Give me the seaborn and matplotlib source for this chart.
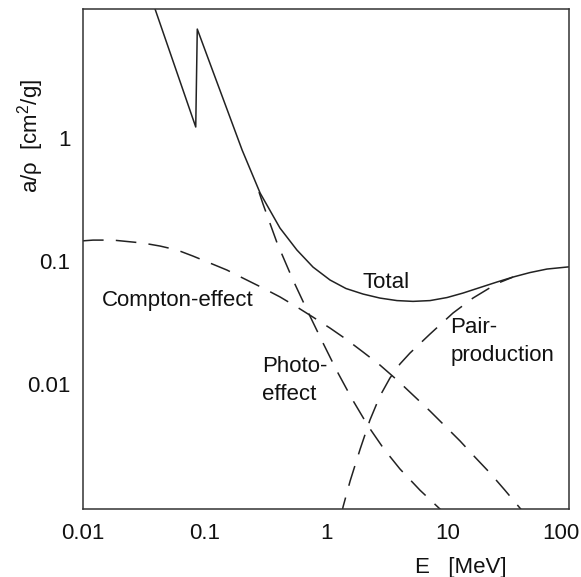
import numpy as np
import pandas as pd
import matplotlib
matplotlib.use("Agg")
import matplotlib.pyplot as plt
import matplotlib.transforms as mtransforms
import seaborn as sns
from matplotlib.ticker import FixedLocator, FixedFormatter, NullLocator

# ---- data (E in MeV, a/rho in cm^2/g) ----
total_E = [0.0377, 0.0847, 0.0872, 0.1154, 0.152, 0.204, 0.287, 0.418, 0.576, 0.782,
           1.08, 1.46, 2.02, 2.78, 3.84, 5.20, 7.18, 9.91, 13.4, 18.5, 25.5, 34.6,
           47.7, 65.9, 96.4, 100.0]
total_mu = [12.5, 1.23, 7.69, 3.64, 1.75, 0.799, 0.357, 0.1855, 0.123, 0.0893,
            0.0701, 0.0598, 0.0539, 0.0500, 0.0477, 0.0470, 0.0477, 0.0505, 0.0549,
            0.0609, 0.0675, 0.0741, 0.0806, 0.0861, 0.0894, 0.0897]

photo_E = [0.281, 0.303, 0.396, 0.535, 0.698, 0.927, 1.23, 1.64, 2.22, 3.00, 4.06,
           5.94, 8.67, 10.5]
photo_mu = [0.364, 0.291, 0.140, 0.0701, 0.0400, 0.0224, 0.01276, 0.00755, 0.00456,
            0.00296, 0.00204, 0.00137, 0.000964, 0.000814]

compton_E = [0.0100, 0.0121, 0.0177, 0.0312, 0.0431, 0.0594, 0.0803, 0.111, 0.153,
             0.207, 0.303, 0.418, 0.576, 0.782, 1.08, 1.46, 2.02, 2.78, 3.84, 5.20,
             7.18, 9.54, 12.7, 16.8, 22.4, 29.7, 39.5, 45.1]
compton_mu = [0.146, 0.148, 0.148, 0.140, 0.1324, 0.123, 0.1098, 0.0963, 0.0845,
              0.0727, 0.0603, 0.0511, 0.0423, 0.0350, 0.0285, 0.0232, 0.0182, 0.01427,
              0.0108, 0.00814, 0.00603, 0.00456, 0.00344, 0.00255, 0.00189, 0.00137,
              0.00098, 0.00083]

pair_E = [1.33, 1.38, 1.58, 1.91, 2.30, 2.78, 3.36, 4.06, 4.91, 7.18, 11.1, 16.2,
          25.5, 34.6]
pair_mu = [0.00082, 0.00100, 0.00163, 0.00296, 0.00510, 0.00799, 0.01119, 0.01455,
           0.01786, 0.0255, 0.0378, 0.0500, 0.0656, 0.0741]

x_ticks = [0.01, 0.1, 1, 10, 100]
x_ticklabels = ["0.01", "0.1", "1", "10", "100"]
y_ticks = [0.01, 0.1, 1]
y_ticklabels = ["0.01", "0.1", "1"]

# ---- style ----
sns.set_style("white")
plt.rcParams["font.family"] = ["Liberation Sans", "DejaVu Sans"]
plt.rcParams["font.size"] = 16
plt.rcParams["mathtext.fontset"] = "custom"
plt.rcParams["mathtext.rm"] = "Liberation Sans"
plt.rcParams["mathtext.it"] = "Liberation Sans:italic"

INK = "#222222"
fig = plt.figure(figsize=(5.81, 5.77), dpi=100)
ax = fig.add_axes([83 / 581, 1 - 509 / 577, (569 - 83) / 581, (509 - 9) / 577])

def draw(E, mu, dashed):
    df = pd.DataFrame({"E": E, "mu": mu})
    n0 = len(ax.lines)
    sns.lineplot(data=df, x="E", y="mu", ax=ax, color=INK, lw=1.1,
                 estimator=None, sort=False)
    line = ax.lines[n0]
    line.set_solid_joinstyle("round")
    if dashed:
        line.set_dashes((13.5, 8.0))

draw(total_E, total_mu, False)
draw(photo_E, photo_mu, True)
draw(compton_E, compton_mu, True)
draw(pair_E, pair_mu, True)

ax.set_xscale("log")
ax.set_yscale("log")
ax.set_xlim(0.01, 100)
ax.set_ylim(0.000964, 11.2)

ax.xaxis.set_major_locator(FixedLocator(x_ticks))
ax.xaxis.set_major_formatter(FixedFormatter(x_ticklabels))
ax.yaxis.set_major_locator(FixedLocator(y_ticks))
ax.yaxis.set_major_formatter(FixedFormatter(y_ticklabels))
ax.xaxis.set_minor_locator(NullLocator())
ax.yaxis.set_minor_locator(NullLocator())
ax.tick_params(axis="both", which="major", direction="in", length=11.5,
               width=1.1, color="#333333", labelsize=16, labelcolor="#111111")
ax.tick_params(axis="x", pad=10)
ax.tick_params(axis="y", pad=9)
for s in ax.spines.values():
    s.set_visible(True)
    s.set_color("#333333")
    s.set_linewidth(1.1)
ax.set_xlabel("")
ax.set_ylabel("")

# nudge the last x tick label ("100") left so it stays inside the figure
fig.canvas.draw()
last = ax.xaxis.get_major_ticks()[-1].label1
last.set_transform(last.get_transform() +
                   mtransforms.ScaledTranslation(-6 / 72, 0, fig.dpi_scale_trans))

# axis titles
fig.text(461 / 581, 1 - 567 / 577, "E   [MeV]", ha="center", va="center",
         fontsize=16, color="#111111")
fig.text(31 / 581, 1 - 135.5 / 577, "a/ρ  [cm$^2$/g]", ha="center", va="center",
         rotation=90, fontsize=16, color="#111111")

# curve labels (baseline positions in data coordinates)
lab = dict(fontsize=16, color="#111111", ha="left", va="baseline")
ax.text(1.98, 0.0603, "Total", **lab)
ax.text(0.0143, 0.0431, "Compton-effect", **lab)
ax.text(0.296, 0.0126, "Photo-", **lab)
ax.text(0.296, 0.00746, "effect", **lab)
ax.text(10.5, 0.0262, "Pair-", **lab)
ax.text(10.5, 0.0155, "production", **lab)

fig.savefig("out.png", dpi=100, facecolor="white")
